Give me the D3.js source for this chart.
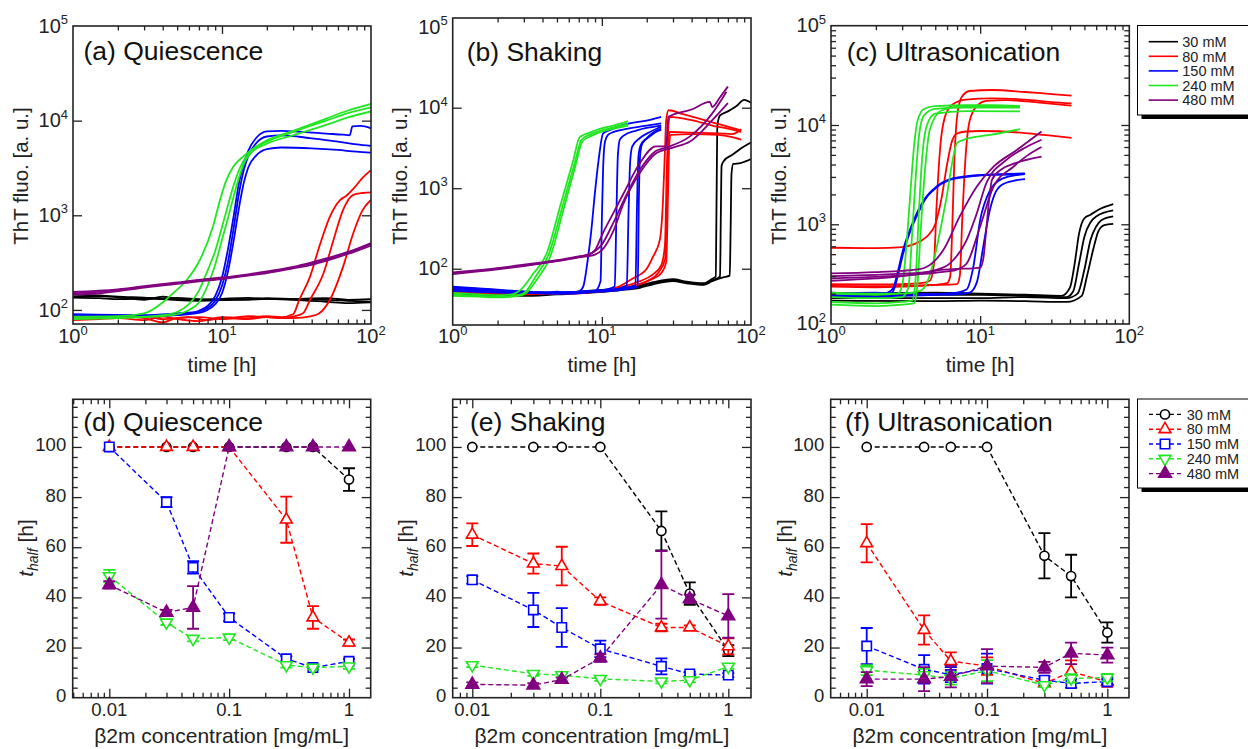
<!DOCTYPE html>
<html>
<head>
<meta charset="utf-8">
<script src="https://cdn.jsdelivr.net/npm/d3@7"></script>
<style>
  body { margin: 0; background: #fff; }
  svg { font-family: "Liberation Sans", Arial, sans-serif; }
</style>
</head>
<body>
<svg id="fig" width="1248" height="749"></svg>
<script>
// ---- data ----
const saltLabels = ["30 mM", "80 mM", "150 mM", "240 mM", "480 mM"];
const saltColors = ["#000000", "#ff0000", "#0000ff", "#22e622", "#800080"];
const concentrations = [0.01, 0.03, 0.05, 0.1, 0.3, 0.5, 1];

// t_half [h] per salt (rows) and concentration (cols); err = half height of the bar
const quiescenceMean = [
  [100, 100, 100, 100, 100, 100, 87],
  [100, 100, 100, 100, 71, 32, 22],
  [100, 78, 52, 32, 15.5, 12, 14.5],
  [48.5, 30, 23.5, 24, 13, 12, 12.5],
  [45, 34, 36, 100, 100, 100, 100]
];
const quiescenceErr = [
  [0, 0, 0, 0, 0, 0, 4.5],
  [0, 0, 0, 0, 9.2, 4.5, 1.2],
  [0, 2, 2.5, 1.5, 1, 0.8, 1],
  [2.5, 1, 1, 1, 1, 0.8, 1],
  [1.5, 1, 8.5, 0, 0, 0, 0]
];
const shakingMean = [
  [100, 100, 100, 100, 66.5, 41.5, 18.8],
  [65, 53.5, 52.5, 38.5, 28, 28, 20.5],
  [47, 35, 28, 19.5, 12.5, 9.5, 9],
  [13, 9.5, 9, 7.5, 6.5, 7, 12.4],
  [5.3, 5, 7.2, 15.8, 45, 39.4, 32.6]
];
const shakingErr = [
  [0, 0, 0, 0, 7.8, 4.5, 2.2],
  [4.5, 4, 7.7, 1.5, 1.5, 0.8, 3.2],
  [1.5, 6.8, 7.7, 3.3, 3.2, 0.8, 0.8],
  [0.8, 0.8, 0.8, 0.8, 0.8, 0.8, 0.8],
  [0.8, 0.8, 0.8, 1.5, 13.5, 1.7, 8.7]
];
const ultraMean = [
  [100, 100, 100, 100, 56.6, 48.5, 26],
  [61.6, 27, 14.6, 12.6, 5.7, 10.4, 6.3],
  [20.6, 11.3, 9.2, 11.6, 7, 5.7, 6.4],
  [11, 9, 7.7, 10.8, 5, 7.7, 8],
  [7.4, 7.4, 8.4, 12.6, 12.1, 17.7, 17]
];
const ultraErr = [
  [0, 0, 0, 0, 9, 8.5, 4],
  [7.6, 5.8, 3.5, 3.5, 1.2, 4.5, 2],
  [7.2, 5.7, 3, 6, 1.5, 1.7, 1],
  [2, 2.5, 2.5, 4.2, 0.8, 1.7, 1.5],
  [2.8, 4.8, 4.3, 6.8, 2.2, 4.3, 3]
];

// ThT kinetics, each curve is a list of [time h, fluorescence a.u.]
const quiescence30 = [
  [[1,145],[1.5,142],[2,138],[3,135],[4,132],[5,134],[7,130],[10,128],[15,130],[20,133],[30,130],[50,128],[70,125],[100,122]],
  [[1,138],[1.5,140],[2,136],[3,128],[4,138],[5,130],[7,128],[10,131],[15,134],[20,130],[30,131],[50,133],[70,128],[100,130]],
  [[1,135],[1.5,133],[2,130],[3,132],[4,130],[5,127],[7,125],[10,127],[15,128],[20,131],[30,128],[50,122],[70,118],[100,120]]
];
const quiescence80 = [
  [[1,78],[1.5,80],[2,82],[3,78],[4,85],[5,80],[7,76],[10,84],[15,82],[20,86],[25,84],[30,90],[33,128],[39,225],[45,467],[53,970],[62,1450],[68,1600],[76,1900],[88,2500],[100,3000]],
  [[1,84],[2,86],[3,82],[4,74],[5,82],[7,84],[10,80],[15,86],[20,84],[25,82],[30,85],[35,92],[39,128],[48,244],[56,548],[65,1140],[76,1640],[88,1720],[100,1750]],
  [[1,80],[2,84],[3,86],[4,80],[6,84],[8,78],[10,82],[15,80],[20,84],[30,82],[40,86],[45,92],[53,128],[65,287],[76,645],[88,1140],[100,1450]]
];
const quiescence150 = [
  [[1,88],[2,86],[3,87],[4,88],[5,90],[6,92],[7,98],[8,110],[9,140],[10,220],[11,450],[12,1000],[13,2200],[14,3500],[15,4800],[17,6600],[20,7700],[25,7800],[35,7600],[50,7300],[65,7100],[72,7000],[75,8700],[85,8800],[100,8300]],
  [[1,90],[3,88],[5,92],[7,96],[8,105],[9,125],[10,180],[11,330],[12,750],[13,1700],[14,3000],[15,4200],[17,5800],[20,6800],[25,7000],[40,6500],[60,6000],[80,5600],[100,5400]],
  [[1,86],[3,85],[5,88],[7,93],[8,100],[9,115],[10,150],[11,260],[12,550],[13,1200],[14,2200],[15,3200],[17,4300],[20,5000],[25,5200],[40,5100],[60,4900],[80,4700],[100,4600]]
];
const quiescence240 = [
  [[1,85],[2,86],[3,92],[4,120],[4.7,150],[5.8,207],[7.1,337],[8.7,760],[9.7,1450],[10.7,2350],[11.9,3250],[13.9,4200],[16,5000],[20,6200],[30,7800],[50,10500],[70,12800],[100,15000]],
  [[1,82],[2,83],[3,85],[4,88],[5,95],[6,115],[7,160],[8,260],[9,420],[10,750],[11,1300],[12,2100],[13,3000],[14,3800],[16,4900],[20,6000],[30,7600],[50,10000],[70,12000],[100,13800]],
  [[1,80],[2,82],[3,84],[4,86],[5,90],[6,100],[7,120],[8,180],[9,300],[10,550],[11,950],[12,1600],[13,2500],[14,3500],[16,4700],[20,5700],[30,7000],[50,9000],[70,10800],[100,12500]]
];
const quiescence480 = [
  [[1,150],[1.5,155],[2,162],[3,175],[5,192],[7,205],[10,215],[15,235],[20,250],[30,280],[40,310],[50,340],[70,400],[100,500]],
  [[1,145],[1.5,150],[2,158],[3,172],[5,188],[7,200],[10,212],[15,230],[20,245],[30,275],[40,300],[50,330],[70,390],[100,480]],
  [[1,155],[2,165],[3,178],[5,195],[7,208],[10,220],[15,238],[20,255],[30,285],[40,318],[50,350],[70,410],[100,510]]
];

const shaking30 = [
  [[1,52],[1.5,50],[2,49],[3,48],[5,50],[8,53],[13,57],[18,62],[22,68],[30,74],[37,69],[48,66],[55,75],[58,80],[58.8,800],[59.5,6000],[62,8000],[70,9000],[80,10500],[90,12500],[100,11500]],
  [[1,50],[1.5,49],[2,48],[3,47],[5,49],[8,52],[13,55],[18,60],[22,66],[30,72],[37,67],[48,64],[55,72],[62,80],[62.8,500],[63.5,1900],[66,2200],[75,2600],[85,3100],[100,3700]],
  [[1,48],[2,47],[3,46],[5,48],[8,50],[13,54],[18,58],[22,64],[30,70],[37,66],[48,63],[55,70],[65,78],[72,82],[73,300],[74,1500],[76,2000],[85,2050],[100,2300]]
];
const shaking80 = [
  [[1,52],[2,50],[3,49],[5,50],[7,50],[10,53],[13,60],[16,75],[20,100],[22,140],[24.5,230],[25.7,700],[26.5,3000],[27,7000],[28,9300],[35,8300],[45,7300],[58,6400],[70,5800],[86,5200]],
  [[1,50],[2,49],[3,48],[5,50],[8,51],[11,55],[14,60],[18,70],[22,85],[25,110],[26.5,200],[27.2,1500],[27.8,5000],[28.5,7700],[40,7000],[55,6000],[70,5500],[86,5000]],
  [[1,53],[3,50],[6,49],[9,52],[12,55],[16,60],[20,70],[24,90],[26.5,130],[27.3,600],[27.9,3000],[28.5,5000],[40,4900],[60,4800],[75,4700],[86,5400]],
  [[1,51],[3,49],[6,50],[10,52],[14,57],[18,65],[22,75],[25,88],[27,120],[27.8,900],[28.3,3500],[29,4600],[40,4700],[60,4600],[75,4300],[86,4000]]
];
const shaking150 = [
  [[1,60],[2,55],[3,52],[4,50],[5,52],[6,50],[7,52],[7.5,60],[8,120],[8.5,300],[9,900],[9.5,2200],[10.2,4800],[11.3,5250],[13.9,6100],[21,7050],[25,7700]],
  [[1,58],[2,54],[3,50],[5,49],[7,51],[9,53],[9.8,70],[10,400],[10.2,1800],[10.5,3800],[11,4600],[12,5000],[15,5500],[20,6000],[25,6400]],
  [[1,56],[3,52],[5,50],[7,52],[10,54],[12.2,60],[12.5,400],[12.8,2500],[13.2,4000],[14,4500],[17,5200],[21,5700],[25,6000]],
  [[1,55],[3,50],[6,49],[9,52],[12,55],[14.7,62],[15.1,500],[15.5,2200],[16,3300],[18,4200],[21,5000],[25,5800]],
  [[1,53],[3,50],[6,51],[9,53],[13,56],[16.8,62],[17.2,600],[17.6,2500],[18.2,3400],[20,4200],[22,4900],[25,5500]],
  [[1,54],[3,52],[6,50],[10,52],[14,55],[17.4,60],[17.7,700],[18.1,2700],[18.7,3600],[21,4400],[23,5000],[25,5300]]
];
const shaking240 = [
  [[1,50],[1.5,48],[2,47],[2.5,48],[2.83,54],[3.47,87],[4.27,155],[5.24,590],[6.44,2240],[7.1,4300],[8.3,4900],[10.2,5600],[12,6000],[15,6800]],
  [[1,48],[1.5,46],[2,45],[2.5,46],[3,50],[3.6,80],[4.4,150],[5.4,560],[6.6,2100],[7.3,4000],[8.5,4700],[10.2,5300],[12,5700],[15,6300]],
  [[1,46],[1.5,45],[2,44],[2.5,45],[3,48],[3.7,75],[4.5,140],[5.5,520],[6.7,2000],[7.4,3800],[8.6,4500],[10.2,5100],[12,5500],[15,6000]]
];
const shaking480 = [
  [[1,88],[2,100],[3,110],[5,125],[7,140],[8,148],[9,170],[10,260],[12,500],[14,865],[18,2050],[23,3300],[27,3300],[27.9,7700],[40,9500],[53,11800],[55,10200],[62,13500],[70,18300]],
  [[1,90],[2,102],[3,112],[5,128],[7,142],[8.5,155],[10,200],[12,380],[14,700],[18,1700],[23,2900],[27,3200],[39,4400],[55,8500],[68.5,15800]],
  [[1,86],[2,98],[3,108],[5,124],[7,138],[9,150],[10,170],[12,300],[14,650],[18,1550],[23,2700],[30,3200],[39,3800],[55,7000],[70,11400]]
];

const ultra30 = [
  [[1,200],[5,205],[10,200],[20,195],[35,190],[40,230],[43,400],[46,800],[50,1150],[55,1250],[65,1450],[78,1600]],
  [[1,190],[5,195],[10,195],[20,190],[38,185],[42,210],[46,400],[50,750],[55,1050],[60,1200],[78,1380]],
  [[1,180],[10,180],[20,185],[38,180],[45,200],[50,350],[55,700],[60,950],[65,1100],[78,1200]],
  [[1,170],[5,168],[10,170],[20,168],[38,165],[48,190],[52,300],[58,600],[62,850],[68,980],[78,1010]]
];
const ultra80 = [
  [[1,580],[2,575],[3,590],[3.5,620],[4,680],[4.5,780],[5,1000],[5.5,1800],[6,4000],[6.5,7000],[7,8200],[8,8600],[10,8700],[20,8300],[30,7800],[41,7400]],
  [[1,250],[2,248],[3,250],[4,255],[4.6,270],[4.9,400],[5.1,1500],[5.4,6000],[5.8,12000],[6.5,16000],[8,18000],[12,18500],[20,18000],[30,17000],[41,16500]],
  [[1,235],[2,232],[3,235],[4,240],[5,245],[6,255],[6.3,300],[6.5,900],[6.7,4000],[7,12000],[7.5,19000],[8.5,22000],[12,22500],[20,21500],[30,20500],[41,19800]],
  [[1,240],[2,238],[3,240],[5,245],[7,250],[7.3,300],[7.6,1200],[8,5000],[8.5,11000],[9.5,15500],[11,17500],[15,17800],[25,16800],[41,15700]]
];
const ultra150 = [
  [[1,195],[1.5,190],[2,185],[2.4,190],[2.62,215],[2.8,300],[3.05,510],[3.4,850],[3.75,1200],[4.3,1800],[4.85,2200],[6.27,2800],[9,3050],[13,3150],[20,3200]],
  [[1,205],[1.5,200],[2,198],[2.4,205],[2.62,230],[2.8,330],[3.05,560],[3.4,900],[3.75,1280],[4.3,1850],[4.85,2250],[6.27,2850],[9,3100],[13,3200],[20,3250]],
  [[1,200],[2,205],[3,200],[5,198],[7,205],[8.1,220],[9,373],[10,1100],[11.7,2220],[13.6,2800],[17,3100],[20,3200]],
  [[1,190],[2,188],[3,190],[5,195],[7,198],[8.5,205],[9.5,260],[10.5,600],[11.5,1300],[12.5,2000],[14,2500],[17,2750],[20,2850]]
];
const ultra240 = [
  [[1,200],[2,195],[2.8,200],[3,240],[3.2,600],[3.4,2000],[3.6,6000],[3.8,11000],[4.2,14500],[5,15500],[8,15800],[12,15800],[18.5,15500]],
  [[1,185],[2,180],[3,185],[3.3,230],[3.5,800],[3.7,3000],[3.9,8000],[4.2,12500],[5,14500],[8,15000],[18.5,15000]],
  [[1,165],[2,160],[3,165],[3.5,170],[3.7,300],[3.9,1500],[4.1,5000],[4.4,10000],[5,13000],[8,13800],[18.5,13700]],
  [[1,155],[2,150],[3,155],[3.6,160],[3.8,250],[4,900],[4.3,4000],[4.6,9000],[5.5,14000],[8,15500],[18.5,15300]],
  [[1,205],[2,200],[3,200],[4,215],[4.5,280],[5,500],[5.5,1000],[6,2000],[6.5,4200],[7,6600],[8,7200],[12,8000],[18.5,9100]]
];
const ultra480 = [
  [[1,320],[2,330],[3,340],[4,355],[4.4,373],[5.66,550],[7.3,1200],[9.5,2400],[12.3,3800],[17.6,5600],[25.8,8600]],
  [[1,300],[2,310],[3,318],[4,325],[5,345],[6.27,404],[8.1,690],[9.5,1290],[11,2600],[15,4450],[20,5900],[25.8,7100]],
  [[1,285],[2,295],[3,305],[4,315],[5,325],[6,335],[7,350],[8.1,400],[10,950],[12.3,2400],[16.7,3800],[21,5000],[25.8,6000]],
  [[1,270],[2,285],[3,300],[4,320],[5,340],[7,355],[9,360],[10,365],[10.5,450],[11,900],[11.5,1800],[12,2800],[14,3600],[17,4100],[25.8,4800]]
];

// ---- drawing ----
const svg = d3.select("#fig");
const ink = "#222";

function addTicks(g, scale, values, len, side, pos) {
  const ax = side === "bottom" ? d3.axisBottom(scale)
    : side === "top" ? d3.axisTop(scale)
    : side === "left" ? d3.axisLeft(scale) : d3.axisRight(scale);
  const tr = (side === "bottom" || side === "top") ? `translate(0,${pos})` : `translate(${pos},0)`;
  const a = g.append("g").attr("transform", tr)
    .call(ax.tickValues(values).tickSize(-len).tickFormat(""));
  a.select(".domain").remove();
  a.selectAll("text").remove();
  a.selectAll("line").attr("stroke", ink).attr("stroke-width", 1.3);
}

function powLabel(g, x, y, exp, anchor) {
  const t = g.append("text").attr("x", x).attr("y", y)
    .attr("text-anchor", anchor).attr("font-size", 20).attr("fill", ink);
  t.append("tspan").text("10");
  t.append("tspan").attr("dy", -8.5).attr("font-size", 13).text(exp);
}

function frame(g, p) {
  g.append("rect").attr("x", p.left).attr("y", p.top)
    .attr("width", p.right - p.left).attr("height", p.bottom - p.top)
    .attr("fill", "none").attr("stroke", ink).attr("stroke-width", 1.6);
}

const logMinor = [2, 3, 4, 5, 6, 7, 8, 9, 20, 30, 40, 50, 60, 70, 80, 90];

function kineticPanel(p) {
  const x = d3.scaleLog().domain([1, 100]).range([p.left, p.right]);
  const y = d3.scaleLog().domain(p.yDomain).range([p.bottom, p.top]);
  const g = svg.append("g");

  svg.append("clipPath").attr("id", "clip" + p.id).append("rect")
    .attr("x", p.left).attr("y", p.top)
    .attr("width", p.right - p.left).attr("height", p.bottom - p.top);

  const line = d3.line().x(d => x(d[0])).y(d => y(d[1])).curve(d3.curveMonotoneX);
  const cg = g.append("g").attr("clip-path", `url(#clip${p.id})`);
  p.series.forEach((curves, i) => {
    curves.forEach(c => {
      cg.append("path").attr("d", line(c))
        .attr("fill", "none").attr("stroke", saltColors[i]).attr("stroke-width", 1.8);
    });
  });

  addTicks(g, x, [10], 8, "bottom", p.bottom);
  addTicks(g, x, [10], 8, "top", p.top);
  addTicks(g, x, logMinor, 4.5, "bottom", p.bottom);
  addTicks(g, x, logMinor, 4.5, "top", p.top);
  const yMajor = [100, 1000, 10000].filter(v => y(v) < p.bottom - 1);
  addTicks(g, y, yMajor, p.yMinor ? 8 : 9, "left", p.left);
  addTicks(g, y, yMajor, p.yMinor ? 8 : 9, "right", p.right);
  if (p.yMinor) {
    const minor = [];
    [100, 1000, 10000].forEach(d => [2, 3, 4, 5, 6, 7, 8, 9].forEach(k => minor.push(d * k)));
    addTicks(g, y, minor, 5, "left", p.left);
    addTicks(g, y, minor, 5, "right", p.right);
  }
  frame(g, p);

  [[1, "0"], [10, "1"], [100, "2"]].forEach(([v, e]) => powLabel(g, x(v), 343.3, e, "middle"));
  [[100, "2"], [1000, "3"], [10000, "4"], [100000, "5"]].forEach(([v, e]) =>
    powLabel(g, p.left - 5, y(v) + 6.6, e, "end"));

  g.append("text").attr("x", p.left + p.titleDx).attr("y", p.top + p.titleDy)
    .attr("font-size", 26.5).attr("fill", "#111").text(p.title);
  g.append("text").attr("x", (p.left + p.right) / 2).attr("y", 372)
    .attr("text-anchor", "middle").attr("font-size", 21).attr("fill", ink).text("time [h]");
  g.append("text").attr("transform", `translate(${p.yLabelX},176) rotate(-90)`)
    .attr("text-anchor", "middle").attr("font-size", 20.5).attr("fill", ink)
    .text("ThT fluo. [a. u.]");
}

const markerTypes = [d3.symbolCircle, d3.symbolTriangle, d3.symbolSquare, d3.symbolTriangle, d3.symbolTriangle];
const markerSizes = [66, 60, 88, 60, 70];
const markerRot = [0, 0, 0, 180, 0];
const markerFill = ["#fff", "#fff", "#fff", "#fff", "#800080"];

function marker(g, cx, cy, i) {
  g.append("path")
    .attr("d", d3.symbol().type(markerTypes[i]).size(markerSizes[i])())
    .attr("transform", `translate(${cx},${cy}) rotate(${markerRot[i]})`)
    .attr("fill", markerFill[i]).attr("stroke", saltColors[i]).attr("stroke-width", 1.6);
}

function thalfPanel(p) {
  const x = d3.scaleLog().domain(p.xDomain).range([p.left, p.right]);
  const y = d3.scaleLinear().domain([0, 119]).range([p.bottom, p.top]);
  const g = svg.append("g");

  const line = d3.line().x((d, j) => x(concentrations[j])).y(d => y(d));
  p.means.forEach((m, i) => {
    g.append("path").attr("d", line(m)).attr("fill", "none")
      .attr("stroke", saltColors[i]).attr("stroke-width", 1.4).attr("stroke-dasharray", "5,3");
    concentrations.forEach((c, j) => {
      const e = p.errs[i][j];
      if (e > 0) {
        const cx = x(c);
        g.append("path")
          .attr("d", `M${cx},${y(m[j] - e)}V${y(m[j] + e)}M${cx - 6},${y(m[j] - e)}H${cx + 6}M${cx - 6},${y(m[j] + e)}H${cx + 6}`)
          .attr("fill", "none").attr("stroke", saltColors[i]).attr("stroke-width", 1.8);
      }
    });
    concentrations.forEach((c, j) => marker(g, x(c), y(m[j]), i));
  });

  const xMinor = [];
  [0.001, 0.01, 0.1].forEach(d => [2, 3, 4, 5, 6, 7, 8, 9].forEach(k => {
    const v = +(d * k).toPrecision(3);
    if (v > p.xDomain[0] && v < p.xDomain[1]) xMinor.push(v);
  }));
  addTicks(g, x, [0.01, 0.1, 1], 9, "bottom", p.bottom);
  addTicks(g, x, [0.01, 0.1, 1], 9, "top", p.top);
  addTicks(g, x, xMinor, 5, "bottom", p.bottom);
  addTicks(g, x, xMinor, 5, "top", p.top);
  const yMajor = [0, 20, 40, 60, 80, 100];
  const yMinor = d3.range(4, 119, 4).filter(v => v % 20 !== 0);
  addTicks(g, y, yMajor.slice(1), 9, "left", p.left);
  addTicks(g, y, yMajor.slice(1), 9, "right", p.right);
  addTicks(g, y, yMinor, 5, "left", p.left);
  addTicks(g, y, yMinor, 5, "right", p.right);
  frame(g, p);

  [[0.01, "0.01"], [0.1, "0.1"], [1, "1"]].forEach(([v, s]) => {
    g.append("text").attr("x", x(v)).attr("y", 716).attr("text-anchor", "middle")
      .attr("font-size", 18.5).attr("fill", ink).text(s);
  });
  yMajor.forEach(v => {
    g.append("text").attr("x", p.left - 6.5).attr("y", y(v) + 4.5).attr("text-anchor", "end")
      .attr("font-size", 18.5).attr("fill", ink).text(v);
  });

  g.append("text").attr("x", p.left + p.titleDx).attr("y", 431)
    .attr("font-size", 26.5).attr("fill", "#111").text(p.title);
  g.append("text").attr("x", (p.left + p.right) / 2).attr("y", 742.5)
    .attr("text-anchor", "middle").attr("font-size", 21).attr("fill", ink)
    .text("β2m concentration [mg/mL]");
  const yl = g.append("text").attr("transform", `translate(${p.yLabelX},548) rotate(-90)`)
    .attr("text-anchor", "middle").attr("font-size", 21).attr("fill", ink);
  yl.append("tspan").attr("font-style", "italic").text("t");
  yl.append("tspan").attr("font-style", "italic").attr("font-size", 14).attr("dy", 5).text("half");
  yl.append("tspan").attr("dy", -5).text(" [h]");
}

kineticPanel({ id: "a", left: 73, right: 371, top: 26, bottom: 324, yDomain: [71, 1e5],
  series: [quiescence30, quiescence80, quiescence150, quiescence240, quiescence480],
  title: "(a) Quiescence", titleDx: 10.5, titleDy: 34, yLabelX: 27.5 });
kineticPanel({ id: "b", left: 452.7, right: 751, top: 18, bottom: 325, yDomain: [20, Math.pow(10, 5.114)],
  series: [shaking30, shaking80, shaking150, shaking240, shaking480],
  title: "(b) Shaking", titleDx: 14, titleDy: 43, yLabelX: 407.4 });
kineticPanel({ id: "c", left: 831, right: 1129.3, top: 25.7, bottom: 324, yDomain: [99, 1e5], yMinor: true,
  series: [ultra30, ultra80, ultra150, ultra240, ultra480],
  title: "(c) Ultrasonication", titleDx: 15.7, titleDy: 35.3, yLabelX: 785.7 });

thalfPanel({ left: 72.7, right: 370.7, top: 399.3, bottom: 697.7, xDomain: [0.00495, 1.517],
  means: quiescenceMean, errs: quiescenceErr, title: "(d) Quiescence", titleDx: 10.6, yLabelX: 33 });
thalfPanel({ left: 452.7, right: 751, top: 399.3, bottom: 697.7, xDomain: [0.00703, 1.504],
  means: shakingMean, errs: shakingErr, title: "(e) Shaking", titleDx: 17.3, yLabelX: 413 });
thalfPanel({ left: 830.7, right: 1129, top: 399.3, bottom: 697.7, xDomain: [0.00502, 1.514],
  means: ultraMean, errs: ultraErr, title: "(f) Ultrasonication", titleDx: 14.3, yLabelX: 791.5 });

// legends
function legendBox(y0, h) {
  svg.append("rect").attr("x", 1141.5).attr("y", y0 + 4).attr("width", 120).attr("height", h).attr("fill", "#000");
  svg.append("rect").attr("x", 1137.5).attr("y", y0).attr("width", 120).attr("height", h)
    .attr("fill", "#fff").attr("stroke", "#000").attr("stroke-width", 1);
}
legendBox(25.5, 89.5);
saltLabels.forEach((s, i) => {
  const ly = 41.7 + i * 14.6;
  svg.append("line").attr("x1", 1148.7).attr("x2", 1178).attr("y1", ly).attr("y2", ly)
    .attr("stroke", saltColors[i]).attr("stroke-width", 1.6);
  svg.append("text").attr("x", 1182.3).attr("y", ly + 5.2).attr("font-size", 14.5).attr("fill", ink).text(s);
});
legendBox(399, 89);
saltLabels.forEach((s, i) => {
  const ly = 414.4 + i * 14.8;
  svg.append("line").attr("x1", 1149).attr("x2", 1181).attr("y1", ly).attr("y2", ly)
    .attr("stroke", saltColors[i]).attr("stroke-width", 1.4).attr("stroke-dasharray", "4,3");
  marker(svg, 1165, ly, i);
  svg.append("text").attr("x", 1186.7).attr("y", ly + 5.2).attr("font-size", 14.5).attr("fill", ink).text(s);
});
</script>
</body>
</html>
